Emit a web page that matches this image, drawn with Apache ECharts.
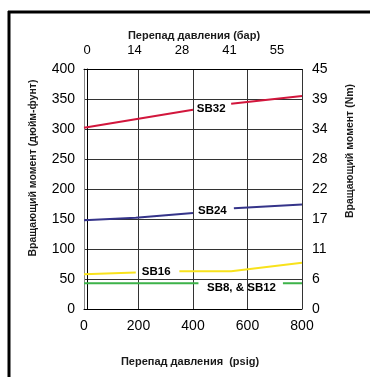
<!DOCTYPE html>
<html><head><meta charset="utf-8">
<script src="https://cdn.jsdelivr.net/npm/echarts@6/dist/echarts.min.js"></script>
<style>html,body{margin:0;padding:0;background:#fff}#c{width:370px;height:377px}</style>
</head><body><div id="c"></div>
<script>
// x: pressure (psig), y: torque (in-lb)
const psigTicks = [0, 200, 400, 600, 800];
const barTicks = ['0', '14', '28', '41', '55'];
const inlbTicks = [0, 50, 100, 150, 200, 250, 300, 350, 400];
const nmTicks = ['0', '6', '11', '17', '22', '28', '34', '39', '45'];

const sb32X = [0, 400, 470, 540, 800];
const sb32Y = [302, 332, null, 342, 355];
const sb24X = [0, 190, 400, 470, 550, 800];
const sb24Y = [148, 152, 160, null, 168, 174];
const sb16X = [0, 190, 265, 350, 540, 800];
const sb16Y = [58, 61, null, 63, 63, 77];
const sb8X = [0, 420, 578, 730, 800];
const sb8Y = [43, 43, null, 43, 43];

const labelText = ['SB32', 'SB24', 'SB16', 'SB8, & SB12'];
const labelX = [467, 471, 265, 578];
const labelY = [333, 164, 62, 35];

const zip = (xs, ys) => xs.map((x, i) => [x, ys[i]]);
const FONT = 'Liberation Sans, Arial, sans-serif';

const chart = echarts.init(document.getElementById('c'), null, {renderer: 'canvas'});
chart.setOption({
  animation: false,
  backgroundColor: '#fff',
  grid: {left: 84, right: 68, top: 69, bottom: 68, show: false},
  xAxis: [
    {type: 'value', position: 'bottom', min: 0, max: 800, interval: 200,
     axisLine: {show: true, lineStyle: {color: '#000', width: 1}},
     axisTick: {show: false},
     axisLabel: {color: '#000', fontSize: 14, fontFamily: FONT, margin: 10,
                 formatter: v => String(psigTicks[v / 200])},
     splitLine: {show: true, lineStyle: {color: '#333', width: 1}}},
    {type: 'value', position: 'top', min: -0.0632, max: 4.5263,
     axisLine: {show: true, onZero: false, lineStyle: {color: '#000', width: 1}},
     axisTick: {show: false},
     axisLabel: {color: '#000', fontSize: 13, fontFamily: 'Liberation Sans Narrow, Liberation Sans, Arial', margin: 12,
                 customValues: [0, 1, 2, 3, 4],
                 formatter: v => barTicks[Math.round(v)]},
     splitLine: {show: false}}
  ],
  yAxis: [
    {type: 'value', position: 'left', min: 0, max: 400, interval: 50,
     axisLine: {show: true, lineStyle: {color: '#888', width: 1}},
     axisTick: {show: false},
     axisLabel: {color: '#000', fontSize: 14, fontFamily: FONT, margin: 9,
                 formatter: v => String(inlbTicks[v / 50])},
     splitLine: {show: true, lineStyle: {color: '#333', width: 1}}},
    {type: 'value', position: 'right', min: 0, max: 400, interval: 50,
     axisLine: {show: true, lineStyle: {color: '#000', width: 1}},
     axisTick: {show: false},
     axisLabel: {color: '#000', fontSize: 14, fontFamily: FONT, margin: 10,
                 formatter: v => nmTicks[Math.round(v / 50)]},
     splitLine: {show: false}}
  ],
  series: [
    {type: 'line', name: 'SB32', data: zip(sb32X, sb32Y), symbol: 'none', connectNulls: false,
     lineStyle: {color: '#d2163c', width: 2}},
    {type: 'line', name: 'SB24', data: zip(sb24X, sb24Y), symbol: 'none', connectNulls: false,
     lineStyle: {color: '#35348a', width: 2}},
    {type: 'line', name: 'SB16', data: zip(sb16X, sb16Y), symbol: 'none', connectNulls: false,
     lineStyle: {color: '#f8e21c', width: 2}},
    {type: 'line', name: 'SB8, & SB12', data: zip(sb8X, sb8Y), symbol: 'none', connectNulls: false,
     lineStyle: {color: '#3db34a', width: 2}},
    {type: 'scatter', name: 'labels', symbolSize: 1, z: 5, silent: true,
     itemStyle: {color: 'rgba(0,0,0,0)', opacity: 1},
     data: labelText.map((t, i) => ({value: [labelX[i], labelY[i]], name: t})),
     label: {show: true, position: 'inside', formatter: p => p.name, opacity: 1,
             color: '#000', textBorderWidth: 0, textBorderColor: 'transparent',
             fontWeight: 'bold', fontSize: 11.5, fontFamily: FONT}}
  ],
  graphic: [
    {type: 'line', shape: {x1: 8, y1: 12, x2: 370, y2: 12}, style: {stroke: '#000', lineWidth: 3}},
    {type: 'line', shape: {x1: 9, y1: 11, x2: 9, y2: 377}, style: {stroke: '#000', lineWidth: 3}},
    {type: 'text', x: 194, y: 36, style: {text: 'Перепад давления (бар)', align: 'center', verticalAlign: 'middle',
      fill: '#1a1a1a', font: 'bold 11px ' + FONT}},
    {type: 'text', x: 190, y: 362, style: {text: 'Перепад давления  (psig)', align: 'center', verticalAlign: 'middle',
      fill: '#1a1a1a', font: 'bold 11px ' + FONT}},
    {type: 'text', x: 33, y: 168, rotation: Math.PI / 2, style: {text: 'Вращающий момент (дюйм-фунт)', align: 'center', verticalAlign: 'middle',
      fill: '#1a1a1a', font: 'bold 10.5px ' + FONT}},
    {type: 'text', x: 350, y: 151, rotation: Math.PI / 2, style: {text: 'Вращающий момент (Nm)', align: 'center', verticalAlign: 'middle',
      fill: '#1a1a1a', font: 'bold 10.5px ' + FONT}}
  ]
});
</script></body></html>
